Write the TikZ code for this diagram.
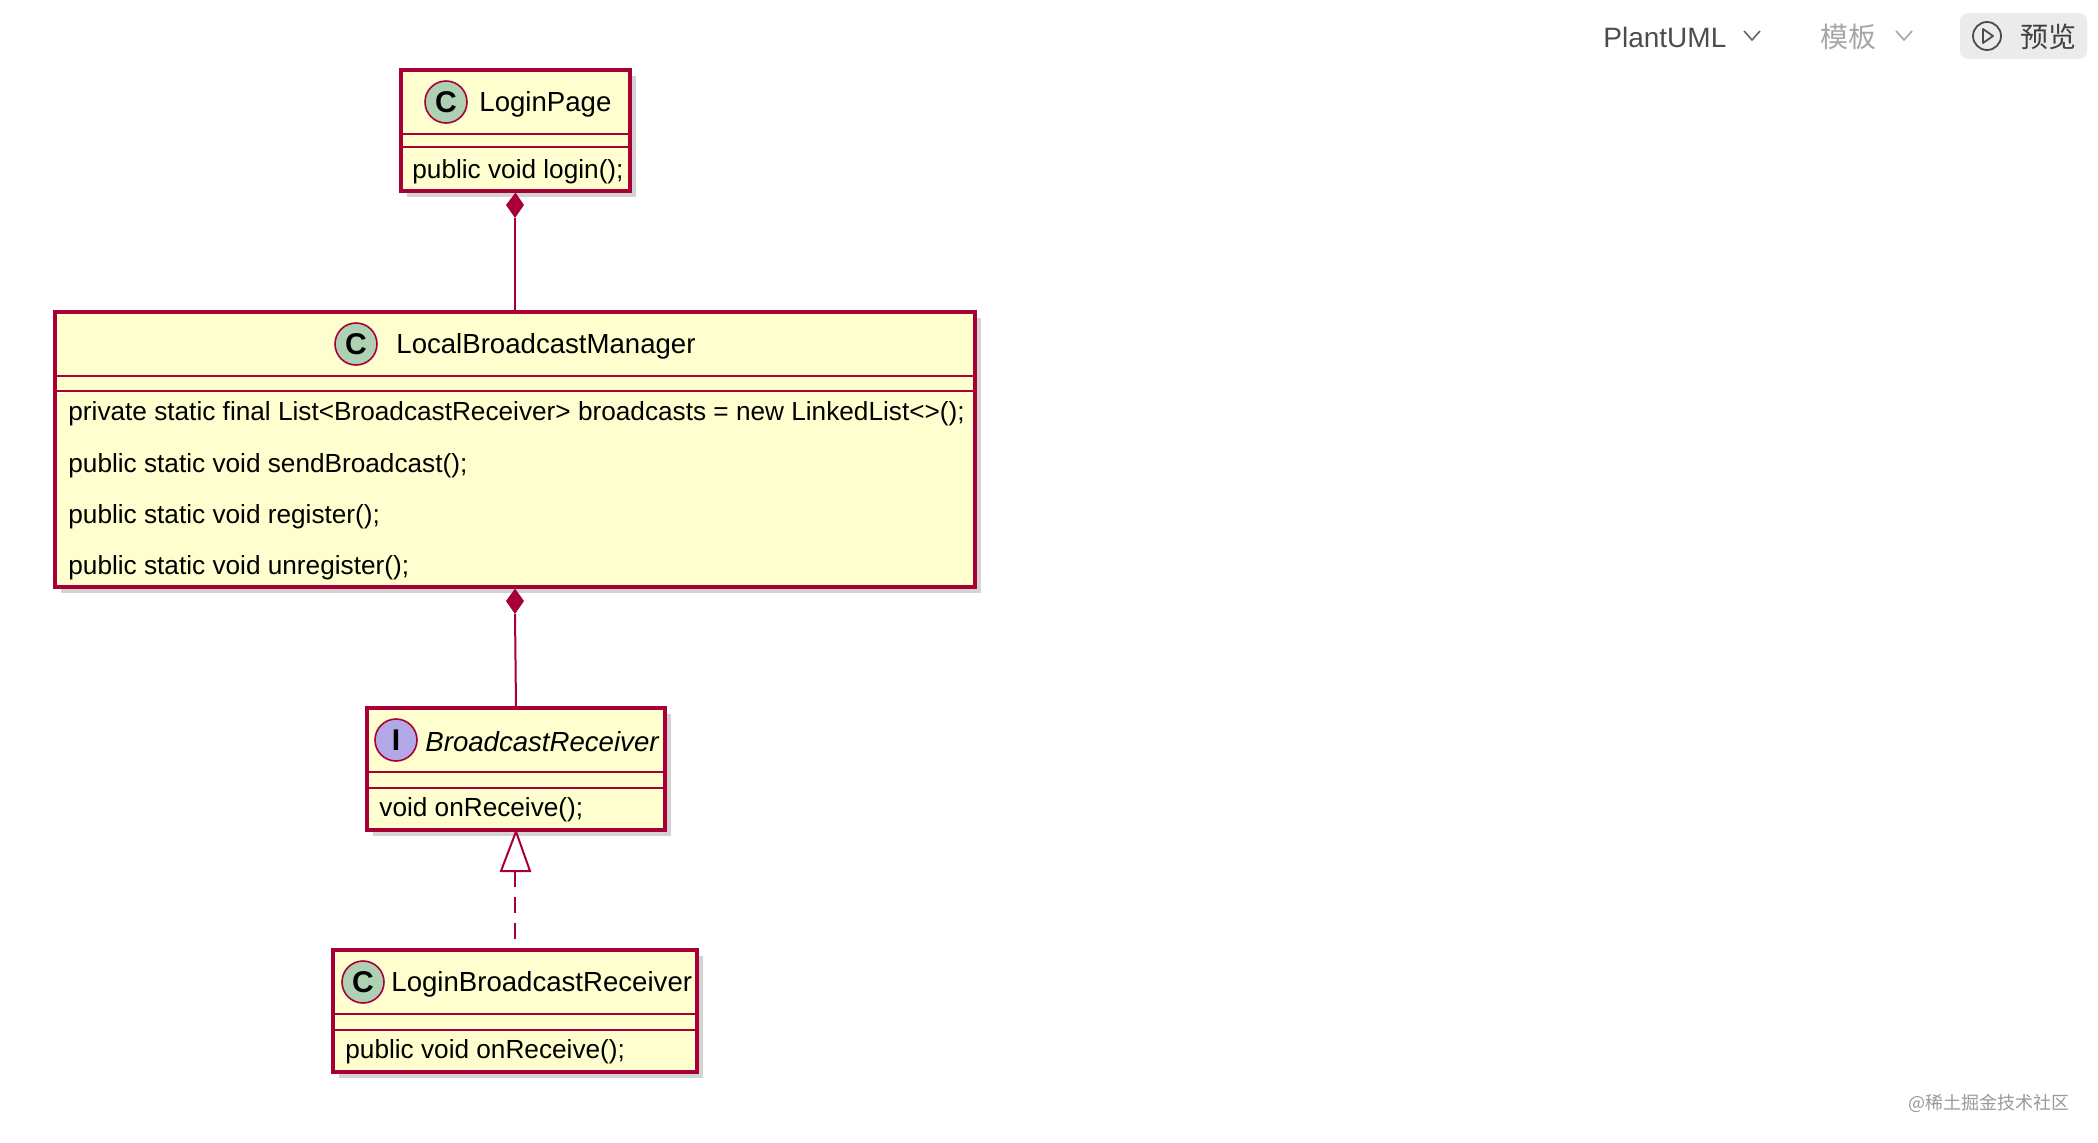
\documentclass[tikz,border=0pt]{standalone}
\usepackage{fontspec}
\setmainfont{Liberation Sans}
\newfontfamily\cjk{Noto Sans CJK SC}
\usetikzlibrary{shadows}
\definecolor{umlbd}{HTML}{A80036}
\definecolor{umlbg}{HTML}{FEFECE}
\definecolor{cgreen}{HTML}{ADD1B2}
\definecolor{ipurple}{HTML}{B4A7E5}
\begin{document}
\begin{tikzpicture}[x=0.5pt,y=-0.5pt,
  box/.style={draw=umlbd,fill=umlbg,line width=1.6pt,inner sep=0,
    drop shadow={shadow xshift=3pt,shadow yshift=-3pt,opacity=0.35}},
  sep/.style={draw=umlbd,line width=1.2pt},
  txt/.style={anchor=west,inner sep=0,font=\fontsize{13.1}{15}\selectfont},
  ttl/.style={anchor=west,inner sep=0,font=\fontsize{13.8}{15}\selectfont},
  icon/.style={circle,draw=umlbd,line width=0.8pt,minimum size=21pt,inner sep=0,font=\bfseries\fontsize{15}{15}\selectfont},
  conn/.style={draw=umlbd,line width=1pt}]
\useasboundingbox (0,0) rectangle (2098,1142);
% LoginPage
\node[box,minimum width=114.5pt,minimum height=60.5pt] (lp) at (515.5,130.5) {};
\draw[sep] (401,134) -- (630,134); \draw[sep] (401,147) -- (630,147);
\node[icon,fill=cgreen] (lpi) at (446,102) {C};
\node[ttl] (lpt) at (479,104) {LoginPage};
\node[txt] (lpm) at (412,172) {public void login();};
% LocalBroadcastManager
\node[box,minimum width=460pt,minimum height=137.5pt] (lbm) at (515,449.5) {};
\draw[sep] (55,376) -- (975,376); \draw[sep] (55,391) -- (975,391);
\node[icon,fill=cgreen] (lbmi) at (356,344) {C};
\node[ttl] (lbmt) at (396,346) {LocalBroadcastManager};
\node[txt] (m1) at (68,414) {private static final List<BroadcastReceiver> broadcasts = new LinkedList<>();};
\node[txt] (m2) at (68,466) {public static void sendBroadcast();};
\node[txt] (m3) at (68,517) {public static void register();};
\node[txt] (m4) at (68,568) {public static void unregister();};
% BroadcastReceiver
\node[box,minimum width=149pt,minimum height=61pt] (br) at (516,769) {};
\draw[sep] (367,772) -- (665,772); \draw[sep] (367,788) -- (665,788);
\node[icon,fill=ipurple] (bri) at (396,740) {I};
\node[ttl,font=\itshape\fontsize{13.8}{15}\selectfont] (brt) at (425,742) {BroadcastReceiver};
\node[txt] (brm) at (379,810) {void onReceive();};
% LoginBroadcastReceiver
\node[box,minimum width=182pt,minimum height=61pt] (lbr) at (515,1011) {};
\draw[sep] (333,1014) -- (697,1014); \draw[sep] (333,1030) -- (697,1030);
\node[icon,fill=cgreen] (lbri) at (363,982) {C};
\node[ttl] (lbrt) at (391,984) {LoginBroadcastReceiver};
\node[txt] (lbrm) at (345,1052) {public void onReceive();};
% connectors
\coordinate (d1b) at (515,218);
\fill[umlbd] (lp.south) -- (524,205) -- (d1b) -- (506,205) -- cycle;
\draw[conn] (d1b) -- (lbm.north);
\coordinate (d2b) at (515,614);
\fill[umlbd] (lbm.south) -- (524,601) -- (d2b) -- (506,601) -- cycle;
\draw[conn] (d2b) -- (br.north);
\coordinate (tb) at (515,871);
\draw[conn,fill=white] (br.south) -- (530,871) -- (501,871) -- cycle;
\draw[conn,dash pattern=on 8pt off 5pt] (tb) -- (lbr.north);
% header
\node[anchor=west,inner sep=0,text=black!70,font=\fontsize{14}{16}\selectfont] (pu) at (1603,37) {PlantUML};
\draw[black!60,line width=0.8pt] (1744,31) -- (1752,40) -- (1760,31);
\node[anchor=west,inner sep=0,text=black!35,font=\cjk\fontsize{14}{16}\selectfont] (mb) at (1820,37) {模板};
\draw[black!35,line width=0.8pt] (1896,31) -- (1904,40) -- (1912,31);
\node[draw=none,fill=black!8,rounded corners=4pt,minimum width=63.5pt,minimum height=23pt] (btn) at (2023.5,36) {};
\node[circle,draw=black!70,line width=0.9pt,minimum size=14pt,inner sep=0] (play) at (1987,36) {};
\draw[black!70,line width=0.9pt,line join=round] (1983,29) -- (1993,36) -- (1983,43) -- cycle;
\node[anchor=west,inner sep=0,text=black!75,font=\cjk\fontsize{14}{16}\selectfont] (yl) at (2020,37) {预览};
\node[anchor=west,inner sep=0,text=black!40,font=\cjk\fontsize{9}{10}\selectfont] (wm) at (1908,1103) {@稀土掘金技术社区};
\end{tikzpicture}
\end{document}
